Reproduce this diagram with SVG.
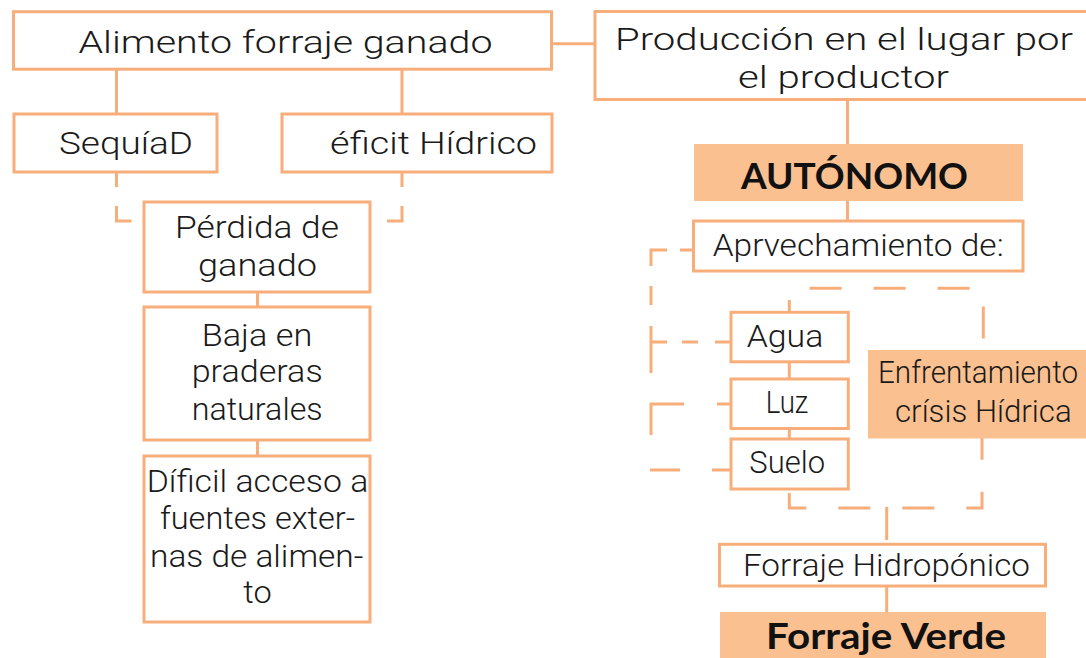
<svg xmlns="http://www.w3.org/2000/svg" width="1086" height="658" viewBox="0 0 1086 658">
<style>
.box{fill:#fff;stroke:#F8AE7A;stroke-width:3}
.fl{fill:#FBC08F}
.c{fill:none;stroke:#F8AE7A;stroke-width:3}
.d{stroke-dasharray:32 32}
.t{font-family:Roboto,Lato,"Liberation Sans",sans-serif;font-weight:300;fill:#1a1a1a;font-size:31px}
.b{font-family:Lato,"Liberation Sans",sans-serif;font-weight:700;font-size:36px}
</style>
<rect width="1086" height="658" fill="#fff"/>
<g id="connectors">
<path class="c" d="M552 43.7H595M116.5 69V114M402 69V114M257.5 292V307M257.5 440V456M847.5 99.5V144M847.5 201V221M789.3 362V379M789.3 428.5V439M886.7 507V540M886.7 586V612"/>
<path class="c" style="stroke-dasharray:15 19 30 20" d="M116.5 172V221H144"/>
<path class="c" style="stroke-dasharray:15 19 30 20" d="M402 172V221H370"/>
<path class="c" d="M680 250H693.5M667 250H651V266M651 286V305M651 326V373M651 342H667M682 342H698M715 342H731M684 404H651V435M717 404H731M650 470H680M712 470H731"/>
<path class="c d" stroke-dashoffset="20" d="M789.3 312V288.3H983.3V350"/>
<path class="c d" stroke-dashoffset="60" d="M789.3 489V508H982V438"/>
</g>
<g id="alimento"><rect class="box" x="13.5" y="11.7" width="538" height="57.5"/>
<text class="t" x="78.5" y="53.3" font-size="33" textLength="414" lengthAdjust="spacingAndGlyphs">Alimento forraje ganado</text></g>
<g id="produccion"><rect class="box" x="595" y="11.5" width="500" height="88"/>
<text class="t" x="615" y="49.5" font-size="33" textLength="458" lengthAdjust="spacingAndGlyphs">Producción en el lugar por</text>
<text class="t" x="738" y="87.7" font-size="33" textLength="211" lengthAdjust="spacingAndGlyphs">el productor</text></g>
<g id="sequia"><rect class="box" x="14" y="114" width="203" height="58"/>
<text class="t" x="59" y="154.3" textLength="134" lengthAdjust="spacingAndGlyphs">SequíaD</text></g>
<g id="deficit"><rect class="box" x="282" y="114" width="270" height="58"/>
<text class="t" x="330" y="154.3" textLength="207" lengthAdjust="spacingAndGlyphs">éficit Hídrico</text></g>
<g id="perdida"><rect class="box" x="144" y="202" width="226" height="90"/>
<text class="t" x="175" y="238.3" textLength="164" lengthAdjust="spacingAndGlyphs">Pérdida de</text>
<text class="t" x="198" y="276" textLength="119" lengthAdjust="spacingAndGlyphs">ganado</text></g>
<g id="baja"><rect class="box" x="144" y="307" width="226" height="133"/>
<text class="t" x="201.7" y="345.7" textLength="110.6" lengthAdjust="spacingAndGlyphs">Baja en</text>
<text class="t" x="191.7" y="381.7" textLength="131" lengthAdjust="spacingAndGlyphs">praderas</text>
<text class="t" x="191.7" y="420" textLength="131" lengthAdjust="spacingAndGlyphs">naturales</text></g>
<g id="dificil"><rect class="box" x="144" y="456" width="226" height="166"/>
<text class="t" x="146.7" y="491.7" textLength="221.6" lengthAdjust="spacingAndGlyphs">Díficil acceso a</text>
<text class="t" x="160" y="529.3" textLength="195" lengthAdjust="spacingAndGlyphs">fuentes exter-</text>
<text class="t" x="150" y="566.7" textLength="213.3" lengthAdjust="spacingAndGlyphs">nas de alimen-</text>
<text class="t" x="243.3" y="603.3" textLength="28.4" lengthAdjust="spacingAndGlyphs">to</text></g>
<g id="autonomo"><rect class="fl" x="694" y="144" width="329" height="57"/>
<text class="b" x="741" y="189.3" fill="#111" textLength="227" lengthAdjust="spacingAndGlyphs">AUTÓNOMO</text></g>
<g id="aprovechamiento"><rect class="box" x="693.5" y="221" width="329.5" height="50"/>
<text class="t" x="712.7" y="255.5" font-size="29" textLength="291" lengthAdjust="spacingAndGlyphs">Aprvechamiento de:</text></g>
<g id="agua"><rect class="box" x="731" y="312.3" width="117.3" height="49.5"/>
<text class="t" x="746.7" y="346.7" font-size="29" textLength="76.6" lengthAdjust="spacingAndGlyphs">Agua</text></g>
<g id="luz"><rect class="box" x="731" y="379" width="117.3" height="49.5"/>
<text class="t" x="765.7" y="413.3" font-size="29" textLength="42.6" lengthAdjust="spacingAndGlyphs">Luz</text></g>
<g id="suelo"><rect class="box" x="731" y="439" width="117.3" height="50"/>
<text class="t" x="749.3" y="472.7" font-size="29" textLength="75.7" lengthAdjust="spacingAndGlyphs">Suelo</text></g>
<g id="enfrentamiento"><rect class="fl" x="868" y="350" width="231" height="88.5"/>
<text class="t" x="878" y="383.3" textLength="200" lengthAdjust="spacingAndGlyphs">Enfrentamiento</text>
<text class="t" x="895" y="421.7" textLength="176.7" lengthAdjust="spacingAndGlyphs">crísis Hídrica</text></g>
<g id="hidroponico"><rect class="box" x="719.5" y="544.3" width="326" height="41.7"/>
<text class="t" x="743" y="576" font-size="29" textLength="287" lengthAdjust="spacingAndGlyphs">Forraje Hidropónico</text></g>
<g id="verde"><rect class="fl" x="720" y="612" width="326" height="60"/>
<text class="b" x="766" y="649.3" fill="#111" textLength="240" lengthAdjust="spacingAndGlyphs">Forraje Verde</text></g>
</svg>
